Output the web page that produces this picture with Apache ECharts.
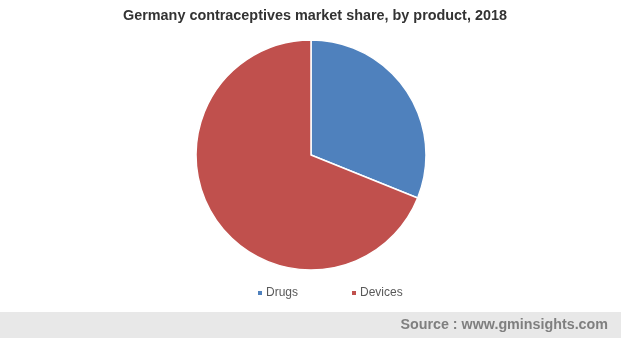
<!DOCTYPE html>
<html><head><meta charset="utf-8">
<script src="https://cdn.jsdelivr.net/npm/echarts@6/dist/echarts.min.js"></script>
<style>html,body{margin:0;padding:0;background:#fff}#c{width:621px;height:338px}</style>
</head><body><div id="c"></div>
<script>
const titleText = 'Germany contraceptives market share, by product, 2018';
const categories = ['Drugs', 'Devices'];
const values = [31.1, 68.9];
const colors = ['#4f81bd', '#c0504d'];
const sourceText = 'Source : www.gminsights.com';

const chart = echarts.init(document.getElementById('c'), null, {renderer: 'canvas'});
chart.setOption({
  animation: false,
  title: {
    text: titleText, left: 123, top: 9, padding: 0,
    textStyle: {fontFamily: 'Liberation Sans, Arial', fontSize: 14.4, fontWeight: 'bold', color: '#333'}
  },
  legend: {
    data: categories, top: 287, left: 256, padding: 0, itemWidth: 6, itemHeight: 6, itemGap: 52,
    icon: 'rect',
    textStyle: {fontFamily: 'Liberation Sans, Arial', fontSize: 12, color: '#595959', padding: [0, 0, 0, -2]}
  },
  graphic: [
    {type: 'rect', left: 0, top: 312, shape: {width: 621, height: 26}, style: {fill: '#e8e8e8'}, z: -1},
    {type: 'text', right: 13, top: 318, style: {text: sourceText, fill: '#7f7f7f', font: 'bold 14.3px Liberation Sans, Arial'}}
  ],
  series: [{
    type: 'pie', center: [311, 155], radius: 115, startAngle: 90, clockwise: true,
    label: {show: false}, labelLine: {show: false},
    itemStyle: {borderColor: '#fff', borderWidth: 1.5},
    emphasis: {disabled: true},
    data: categories.map((c, i) => ({name: c, value: values[i], itemStyle: {color: colors[i]}}))
  }]
});
</script></body></html>
